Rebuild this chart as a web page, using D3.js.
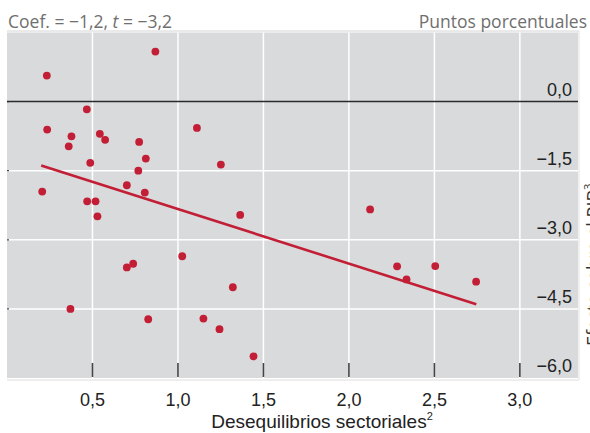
<!DOCTYPE html>
<html>
<head>
<meta charset="utf-8">
<script src="https://cdn.jsdelivr.net/npm/d3@7/dist/d3.min.js"></script>
<style>
  html, body { margin: 0; padding: 0; background: #fff; }
  svg { display: block; }
</style>
</head>
<body>
<svg id="chart" width="590" height="433"></svg>
<script>
// desequilibrios sectoriales (x) vs. efecto en el PIB (y), puntos porcentuales
var desequilibrio = [0.868, 0.233, 0.467, 0.235, 0.377, 0.361, 0.543, 0.574, 0.773, 1.111,
  0.812, 0.487, 0.768, 1.251, 0.701, 0.206, 0.806, 0.469, 0.518, 0.529,
  1.364, 1.025, 0.701, 0.738, 1.321, 0.371, 0.826, 1.149, 1.243, 1.442,
  2.124, 2.282, 2.337, 2.505, 2.744];
var efectoPIB = [1.085, 0.565, -0.167, -0.608, -0.753, -0.97, -0.70, -0.83, -0.875, -0.571,
  -1.237, -1.33, -1.50, -1.367, -1.816, -1.953, -1.975, -2.164, -2.164, -2.49,
  -2.46, -3.357, -3.60, -3.52, -4.03, -4.50, -4.725, -4.71, -4.94, -5.53,
  -2.34, -3.575, -3.86, -3.57, -3.91];
// recta de regresion (extremos)
var ajusteX = [0.2, 2.745];
var ajusteY = [-1.385, -4.40];
var xTicks = [0.5, 1.0, 1.5, 2.0, 2.5, 3.0];
var yTicks = [0, -1.5, -3.0, -4.5, -6.0];

var svg = d3.select("#chart");
var red = "#c21f36";

var x = d3.scaleLinear().domain([0, 3.34]).range([7, 578]);
var y = d3.scaleLinear().domain([-6, 1.5]).range([378, 32.5]);
var fmt = function (v) {
  return d3.format(".1f")(v).replace(".", ",").replace("-", "\u2212");
};

// fondo
svg.append("rect")
  .attr("x", x(0)).attr("y", y(1.5))
  .attr("width", x(3.34) - x(0)).attr("height", y(-6) - y(1.5))
  .attr("fill", "#d9dadc");
svg.append("line")
  .attr("x1", x(0)).attr("x2", x(3.34) + 1).attr("y1", 31).attr("y2", 31)
  .attr("stroke", "#d4d4d4").attr("stroke-width", 1);
svg.append("line")
  .attr("x1", x(0)).attr("x2", x(3.34) + 1).attr("y1", 380).attr("y2", 380)
  .attr("stroke", "#dedede").attr("stroke-width", 1);
svg.append("line")
  .attr("x1", x(3.34) + 1).attr("x2", x(3.34) + 1).attr("y1", 31).attr("y2", 380)
  .attr("stroke", "#e2e2e2").attr("stroke-width", 1);

// rejilla
svg.append("g").selectAll("line").data(xTicks).enter().append("line")
  .attr("x1", function (d) { return x(d); }).attr("x2", function (d) { return x(d); })
  .attr("y1", y(1.5)).attr("y2", y(-6))
  .attr("stroke", "#fff").attr("stroke-width", 1.5);
svg.append("g").selectAll("line").data(yTicks.filter(function (d) { return d !== 0 && d !== -6; }))
  .enter().append("line")
  .attr("x1", x(0)).attr("x2", x(3.34))
  .attr("y1", function (d) { return y(d); }).attr("y2", function (d) { return y(d); })
  .attr("stroke", "#fff").attr("stroke-width", 1.5);
// marcas pequeñas a la izquierda
svg.append("g").selectAll("line").data(yTicks.filter(function (d) { return d !== -6; }))
  .enter().append("line")
  .attr("x1", x(0)).attr("x2", x(0) + 2)
  .attr("y1", function (d) { return y(d); }).attr("y2", function (d) { return y(d); })
  .attr("stroke", "#444").attr("stroke-width", 1.2);
// linea del cero
svg.append("line")
  .attr("x1", x(0)).attr("x2", x(3.34))
  .attr("y1", y(0)).attr("y2", y(0))
  .attr("stroke", "#2a2a2a").attr("stroke-width", 1.5);

// marcas del eje x
svg.append("g").selectAll("line").data(xTicks).enter().append("line")
  .attr("x1", function (d) { return x(d); }).attr("x2", function (d) { return x(d); })
  .attr("y1", y(-6) - 15).attr("y2", y(-6) - 1)
  .attr("stroke", "#444").attr("stroke-width", 1.6);

// etiquetas eje y (dentro del panel, a la derecha)
svg.append("g").selectAll("text").data(yTicks).enter().append("text")
  .attr("x", 572).attr("y", function (d) { return y(d) - 6; })
  .attr("text-anchor", "end")
  .attr("font-family", "Liberation Sans, Arial, sans-serif")
  .attr("font-size", 18).attr("fill", "#222")
  .text(fmt);

// etiquetas eje x
svg.append("g").selectAll("text").data(xTicks).enter().append("text")
  .attr("x", function (d) { return x(d); }).attr("y", 406)
  .attr("text-anchor", "middle")
  .attr("font-family", "Liberation Sans, Arial, sans-serif")
  .attr("font-size", 18).attr("fill", "#222")
  .text(fmt);

var xt = svg.append("text")
  .attr("x", 322).attr("y", 428)
  .attr("text-anchor", "middle")
  .attr("font-family", "Liberation Sans, Arial, sans-serif")
  .attr("font-size", 19).attr("fill", "#222");
xt.append("tspan").text("Desequilibrios sectoriales");
xt.append("tspan").attr("font-size", 11).attr("dy", -8).text("2");

// textos superiores
var coef = svg.append("text")
  .attr("x", 8).attr("y", 28)
  .attr("font-family", "Open Sans, sans-serif")
  .attr("font-size", 17.5).attr("fill", "#6f6f6f");
coef.append("tspan").text("Coef. = \u22121,2, ");
coef.append("tspan").attr("font-style", "italic").text("t");
coef.append("tspan").text(" = \u22123,2");

svg.append("text")
  .attr("x", 587).attr("y", 28)
  .attr("text-anchor", "end")
  .attr("font-family", "Open Sans, sans-serif")
  .attr("font-size", 17.5).attr("fill", "#6f6f6f")
  .text("Puntos porcentuales");

// titulo del eje y, cortado por el borde
var yt = svg.append("text")
  .attr("transform", "translate(600,346) rotate(-90)")
  .attr("font-family", "Open Sans, sans-serif")
  .attr("font-size", 18).attr("fill", "#333");
yt.append("tspan").text("Efecto sobre el PIB");
yt.append("tspan").attr("font-size", 11).attr("dy", -8).text("3");

// recta de regresion
svg.append("line")
  .attr("x1", x(ajusteX[0])).attr("y1", y(ajusteY[0]))
  .attr("x2", x(ajusteX[1])).attr("y2", y(ajusteY[1]))
  .attr("stroke", red).attr("stroke-width", 2.6);

// puntos
svg.append("g").selectAll("circle").data(desequilibrio).enter().append("circle")
  .attr("cx", function (d) { return x(d); })
  .attr("cy", function (d, i) { return y(efectoPIB[i]); })
  .attr("r", 3.9)
  .attr("fill", red);
</script>
</body>
</html>
